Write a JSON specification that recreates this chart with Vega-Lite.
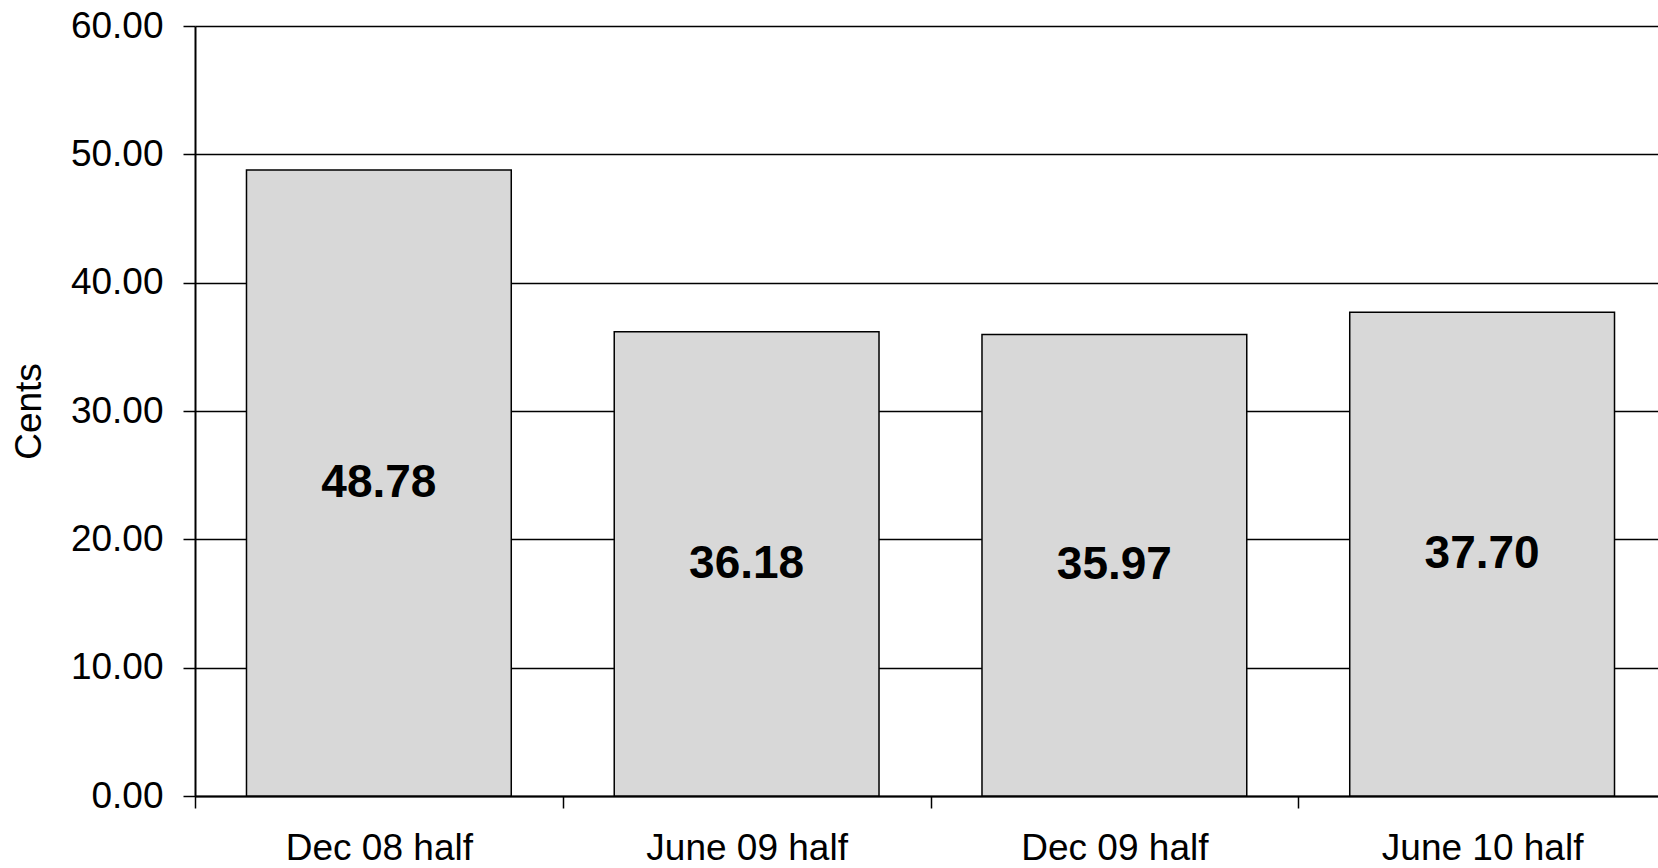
{
  "$schema": "https://vega.github.io/schema/vega-lite/v6.json",
  "width": 1471,
  "height": 770,
  "autosize": {"type": "none"},
  "padding": {"left": 195, "top": 26, "right": 0, "bottom": 72},
  "background": "white",
  "config": {
    "view": {"stroke": null},
    "font": "Liberation Sans"
  },
  "data": {
    "values": [
      {"period": "Dec 08 half", "value": 48.78},
      {"period": "June 09 half", "value": 36.18},
      {"period": "Dec 09 half", "value": 35.97},
      {"period": "June 10 half", "value": 37.70}
    ]
  },
  "encoding": {
    "x": {
      "field": "period",
      "type": "nominal",
      "sort": null,
      "scale": {"paddingInner": 0, "paddingOuter": 0},
      "axis": {
        "title": null,
        "labelAngle": 0,
        "labelFont": "Liberation Sans",
        "labelFontSize": 37,
        "labelColor": "black",
        "labelPadding": 22,
        "labelLimit": 0,
        "tickBand": "extent",
        "tickSize": 12,
        "tickColor": "black",
        "tickWidth": 1.5,
        "domainColor": "black",
        "domainWidth": 2,
        "grid": false
      }
    }
  },
  "layer": [
    {
      "mark": {"type": "bar", "width": {"band": 0.72}, "fill": "#d8d8d8", "stroke": "black", "strokeWidth": 1.5},
      "encoding": {
        "y": {
          "field": "value",
          "type": "quantitative",
          "scale": {"domain": [0, 60], "nice": false},
          "axis": {
            "title": "Cents",
            "titleFont": "Liberation Sans",
            "titleFontSize": 37,
            "titleFontWeight": "normal",
            "titleColor": "black",
            "titlePadding": 22,
            "values": [0, 10, 20, 30, 40, 50, 60],
            "format": ".2f",
            "labelFont": "Liberation Sans",
            "labelFontSize": 37,
            "labelColor": "black",
            "labelPadding": 20,
            "tickSize": 12,
            "tickColor": "black",
            "tickWidth": 1.5,
            "domainColor": "black",
            "domainWidth": 2,
            "grid": true,
            "gridColor": "black",
            "gridWidth": 1.5,
            "gridOpacity": 1
          }
        }
      }
    },
    {
      "transform": [{"calculate": "datum.value / 2", "as": "labelPos"}],
      "mark": {
        "type": "text",
        "font": "Liberation Sans",
        "fontSize": 46,
        "fontWeight": "bold",
        "color": "black",
        "baseline": "middle",
        "align": "center"
      },
      "encoding": {
        "y": {"field": "labelPos", "type": "quantitative", "scale": {"domain": [0, 60], "nice": false}},
        "text": {"field": "value", "type": "quantitative", "format": ".2f"}
      }
    }
  ]
}
